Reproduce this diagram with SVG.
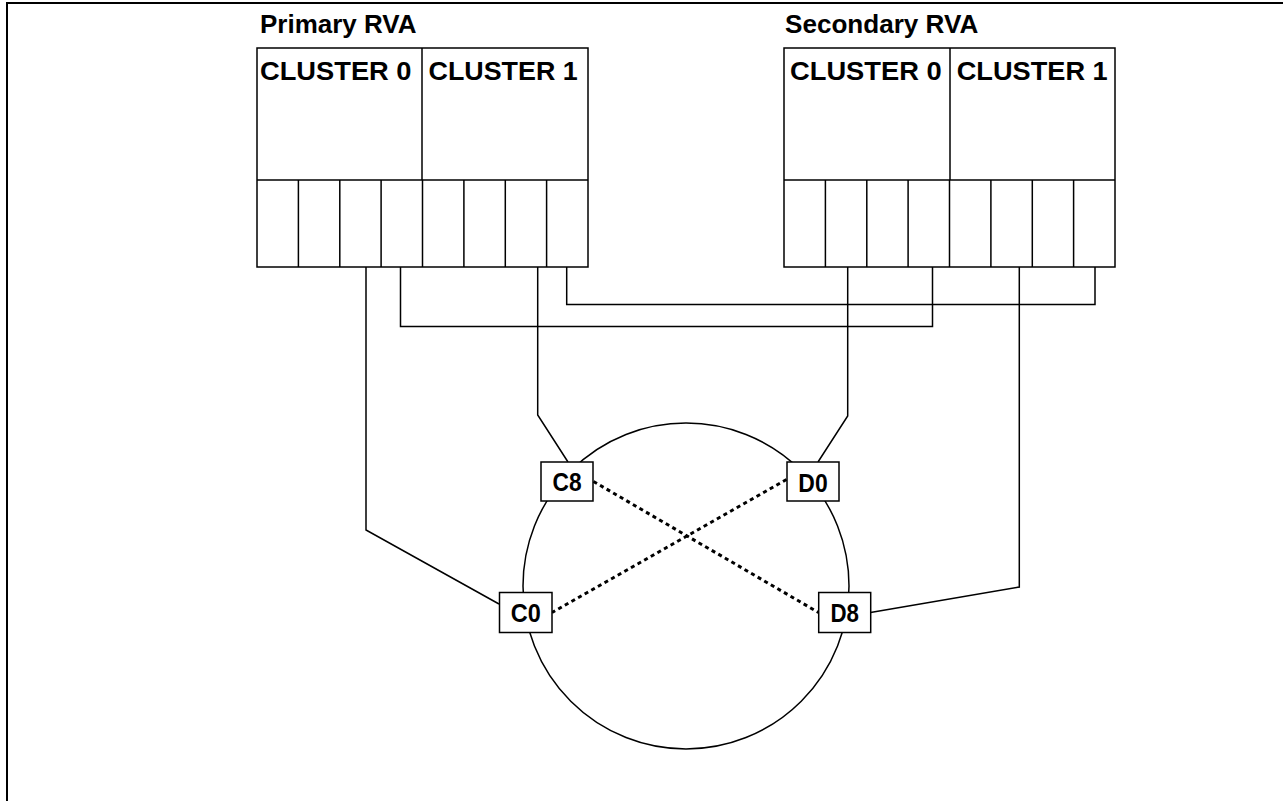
<svg xmlns="http://www.w3.org/2000/svg" width="1283" height="801" viewBox="0 0 1283 801">
<style>
.bx{fill:#fff;stroke:#000;stroke-width:1.5}
.ln{fill:none;stroke:#000;stroke-width:1.5}
.dt{fill:none;stroke:#000;stroke-width:3;stroke-dasharray:4 3.6}
.t{font-family:"Liberation Sans",Arial,sans-serif;font-weight:bold;fill:#000}
.tl{font-size:25px}
.cl{font-size:25.5px}
.nd{font-size:25px;text-anchor:middle}
</style>
<rect width="1283" height="801" fill="#fff"/>
<g id="frame">
<line x1="6" y1="3" x2="1283" y2="3" stroke="#000" stroke-width="2"/>
<line x1="7" y1="2" x2="7" y2="801" stroke="#000" stroke-width="2"/>
</g>
<g id="connectors">
<circle cx="686" cy="586" r="163" class="ln"/>
<polyline class="ln" points="366,267 366,530 499,604"/>
<polyline class="ln" points="400.5,267 400.5,326.5 932.5,326.5 932.5,267"/>
<polyline class="ln" points="537.7,267 537.7,415 568,462"/>
<polyline class="ln" points="566.7,267 566.7,304.5 1095,304.5 1095,267"/>
<polyline class="ln" points="847.7,267 847.7,416 818,462"/>
<polyline class="ln" points="1019.3,267 1019.3,587 870.5,612.5"/>
<line class="dt" x1="593.5" y1="481.5" x2="818.5" y2="612.5"/>
<line class="dt" x1="786.5" y1="479.5" x2="552" y2="612.5"/>
</g>
<g id="primary-rva">
<text class="t tl" x="260" y="33" textLength="156.5" lengthAdjust="spacingAndGlyphs">Primary RVA</text>
<rect class="bx" x="257" y="48" width="331" height="219"/>
<line class="ln" x1="422" y1="48" x2="422" y2="180"/>
<line class="ln" x1="257" y1="180" x2="588" y2="180"/>
<path class="ln" d="M298.4,180V267M339.8,180V267M381.1,180V267M422.5,180V267M463.9,180V267M505.3,180V267M546.6,180V267"/>
<text class="t cl" x="260" y="80" textLength="151.5" lengthAdjust="spacingAndGlyphs">CLUSTER 0</text>
<text class="t cl" x="428.5" y="80" textLength="149.2" lengthAdjust="spacingAndGlyphs">CLUSTER 1</text>
</g>
<g id="secondary-rva">
<text class="t tl" x="785" y="33" textLength="193.3" lengthAdjust="spacingAndGlyphs">Secondary RVA</text>
<rect class="bx" x="784" y="48" width="331" height="219"/>
<line class="ln" x1="950" y1="48" x2="950" y2="180"/>
<line class="ln" x1="784" y1="180" x2="1115" y2="180"/>
<path class="ln" d="M825.4,180V267M866.8,180V267M908.1,180V267M949.5,180V267M990.9,180V267M1032.3,180V267M1073.6,180V267"/>
<text class="t cl" x="790" y="80" textLength="151.7" lengthAdjust="spacingAndGlyphs">CLUSTER 0</text>
<text class="t cl" x="956.7" y="80" textLength="151" lengthAdjust="spacingAndGlyphs">CLUSTER 1</text>
</g>
<g id="node-c8">
<rect class="bx" x="541" y="462" width="52" height="39"/>
<text class="t nd" x="567" y="490.5" textLength="29" lengthAdjust="spacingAndGlyphs">C8</text>
</g>
<g id="node-d0">
<rect class="bx" x="787" y="462" width="52" height="39"/>
<text class="t nd" x="813" y="491.5" textLength="29.3" lengthAdjust="spacingAndGlyphs">D0</text>
</g>
<g id="node-c0">
<rect class="bx" x="499.5" y="592.5" width="52.5" height="40"/>
<text class="t nd" x="525.8" y="621.5" textLength="30" lengthAdjust="spacingAndGlyphs">C0</text>
</g>
<g id="node-d8">
<rect class="bx" x="818.7" y="592.5" width="52" height="40"/>
<text class="t nd" x="844.7" y="621.5" textLength="28.5" lengthAdjust="spacingAndGlyphs">D8</text>
</g>
</svg>
